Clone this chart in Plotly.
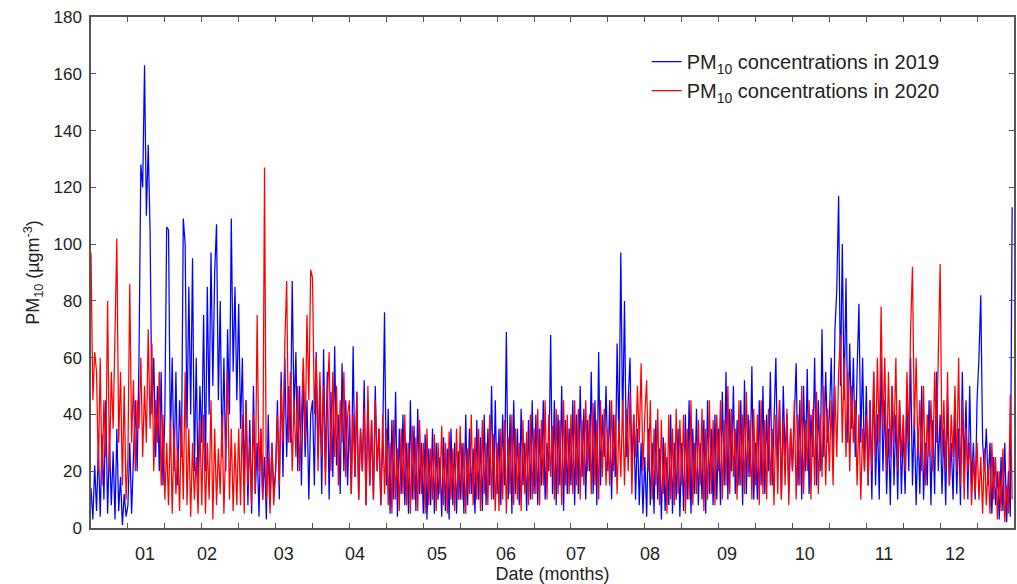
import plotly.graph_objects as go

# PM10 values, one value every 0.73 day (20 per tick interval)
pm10_2019 = (
    [14, 3, 22, 6, 28, 4, 33, 10, 45, 5, 30, 8, 27, 3, 35, 6, 18, 1, 12, 4]
    + [8, 30, 5, 25, 45, 20, 60, 128, 120, 163, 110, 135, 105, 40, 60, 25, 50, 20, 55, 15]
    + [40, 106, 105, 30, 60, 20, 55, 15, 45, 25, 109, 100, 35, 85, 40, 95, 20, 60, 15, 50]
    + [30, 75, 20, 85, 40, 97, 50, 90, 107, 45, 80, 25, 60, 20, 70, 40, 109, 55, 85, 45]
    + [79, 35, 60, 15, 45, 8, 38, 5, 50, 12, 30, 4, 35, 10, 25, 3, 40, 8, 30, 12]
    + [20, 45, 10, 55, 18, 60, 25, 50, 30, 87, 40, 62, 20, 50, 15, 55, 25, 45, 10, 40]
    + [45, 15, 62, 25, 50, 12, 63, 20, 55, 10, 48, 18, 64, 22, 40, 12, 58, 20, 45, 15]
    + [40, 12, 64, 18, 48, 10, 35, 20, 52, 8, 45, 15, 38, 10, 50, 20, 35, 8, 30, 76]
    + [15, 42, 5, 38, 10, 48, 4, 35, 12, 40, 8, 30, 5, 45, 10, 36, 6, 42, 12, 30]
    + [5, 33, 3, 28, 8, 35, 5, 30, 10, 25, 4, 32, 6, 28, 3, 35, 8, 30, 5, 27]
    + [10, 30, 5, 40, 8, 35, 12, 28, 5, 38, 10, 32, 6, 40, 8, 35, 15, 50, 10, 45]
    + [12, 35, 8, 40, 15, 69, 10, 40, 5, 45, 12, 35, 8, 42, 15, 30, 6, 38, 10, 45]
    + [12, 40, 8, 35, 15, 45, 10, 30, 20, 68, 12, 45, 8, 40, 15, 50, 6, 38, 12, 35]
    + [15, 45, 8, 40, 12, 50, 18, 42, 10, 38, 20, 55, 12, 45, 8, 62, 15, 40, 25, 50]
    + [20, 45, 10, 40, 18, 65, 30, 97, 35, 80, 25, 45, 60, 20, 40, 10, 35, 8, 30, 5]
    + [25, 4, 35, 8, 30, 5, 38, 10, 28, 3, 32, 6, 25, 8, 40, 5, 30, 10, 35, 4]
    + [30, 6, 40, 10, 45, 5, 35, 12, 42, 8, 30, 10, 38, 5, 45, 12, 35, 8, 40, 10]
    + [35, 8, 48, 15, 55, 10, 42, 20, 50, 12, 38, 15, 45, 8, 52, 12, 40, 18, 57, 10]
    + [30, 10, 45, 15, 50, 12, 40, 20, 55, 15, 35, 60, 20, 45, 10, 50, 25, 40, 12, 35]
    + [20, 40, 58, 15, 45, 10, 50, 20, 56, 12, 40, 25, 60, 15, 45, 20, 70, 25, 55, 30]
    + [40, 60, 25, 70, 84, 117, 50, 100, 45, 88, 30, 65, 35, 60, 25, 55, 79, 30, 60, 20]
    + [50, 15, 45, 10, 55, 15, 40, 10, 60, 20, 45, 12, 35, 8, 50, 15, 40, 10, 45, 12]
    + [35, 12, 45, 20, 60, 15, 40, 8, 35, 12, 50, 10, 30, 15, 45, 8, 38, 12, 55, 20]
    + [40, 12, 35, 8, 45, 15, 30, 10, 42, 12, 35, 8, 55, 20, 45, 10, 50, 15, 30, 10]
    + [45, 60, 82, 30, 20, 35, 15, 30, 5, 25, 8, 20, 3, 25, 6, 30, 2, 20, 4, 113]
)

pm10_2020 = (
    [97, 45, 62, 55, 20, 60, 15, 45, 25, 80, 20, 55, 35, 65, 102, 30, 55, 15, 50, 10]
    + [25, 86, 30, 52, 20, 45, 35, 60, 25, 50, 30, 70, 35, 65, 20, 45, 30, 55, 15, 40]
    + [10, 30, 8, 38, 5, 35, 12, 28, 6, 40, 10, 55, 8, 35, 4, 30, 10, 25, 5, 38]
    + [8, 40, 5, 30, 10, 45, 3, 35, 8, 28, 12, 40, 5, 30, 55, 10, 35, 6, 30, 8]
    + [35, 8, 40, 5, 45, 15, 30, 8, 40, 12, 75, 20, 35, 10, 127, 10, 25, 5, 30, 8]
    + [20, 40, 15, 50, 30, 65, 87, 30, 55, 20, 45, 25, 50, 20, 40, 60, 30, 75, 45, 91]
    + [88, 40, 60, 20, 55, 25, 50, 15, 45, 62, 20, 55, 25, 50, 15, 45, 30, 55, 18, 40]
    + [45, 12, 40, 18, 48, 10, 35, 20, 42, 8, 50, 15, 38, 10, 45, 20, 35, 8, 40, 12]
    + [35, 8, 30, 5, 38, 10, 28, 6, 35, 12, 40, 8, 30, 5, 36, 10, 32, 6, 38, 12]
    + [30, 5, 35, 8, 28, 10, 33, 6, 30, 12, 36, 8, 30, 5, 34, 10, 28, 6, 35, 10]
    + [36, 10, 30, 5, 28, 12, 40, 8, 32, 10, 35, 6, 38, 12, 30, 8, 40, 10, 33, 6]
    + [30, 6, 35, 10, 38, 5, 32, 12, 40, 8, 35, 10, 30, 6, 38, 12, 34, 8, 40, 10]
    + [35, 12, 42, 8, 38, 15, 45, 10, 40, 18, 36, 10, 42, 12, 38, 8, 45, 15, 40, 12]
    + [40, 12, 45, 15, 42, 10, 38, 15, 45, 20, 40, 12, 44, 15, 38, 10, 45, 18, 42, 15]
    + [35, 15, 45, 20, 40, 12, 38, 18, 45, 15, 42, 20, 48, 12, 40, 25, 50, 30, 58, 20]
    + [40, 52, 20, 45, 10, 35, 15, 42, 8, 38, 12, 30, 5, 40, 10, 35, 8, 42, 12, 38]
    + [15, 40, 5, 35, 10, 45, 8, 30, 12, 38, 15, 42, 6, 35, 10, 45, 12, 38, 8, 40]
    + [20, 45, 10, 38, 15, 50, 12, 42, 18, 35, 10, 45, 15, 40, 12, 48, 18, 38, 10, 42]
    + [15, 40, 8, 45, 12, 38, 10, 42, 15, 35, 8, 40, 12, 45, 10, 38, 15, 42, 8, 35]
    + [20, 45, 10, 40, 15, 50, 12, 38, 20, 45, 10, 42, 15, 48, 12, 40, 18, 50, 15, 42]
    + [20, 45, 15, 50, 25, 55, 68, 30, 60, 25, 55, 20, 50, 30, 45, 15, 40, 10, 35, 20]
    + [40, 15, 45, 20, 55, 25, 60, 30, 78, 35, 60, 20, 55, 25, 50, 30, 60, 20, 45, 25]
    + [40, 20, 55, 30, 70, 92, 35, 60, 25, 45, 20, 50, 15, 40, 25, 45, 20, 55, 30, 65]
    + [93, 25, 45, 20, 55, 15, 40, 25, 50, 20, 60, 15, 45, 10, 35, 20, 30, 8, 25, 12]
    + [30, 10, 25, 5, 28, 8, 22, 5, 30, 10, 25, 3, 20, 6, 28, 2, 15, 5, 47, 10]
)

day_step = 0.73
days_2019 = [i * day_step for i in range(len(pm10_2019))]
days_2020 = [i * day_step for i in range(len(pm10_2020))]

month_labels = ["01", "02", "03", "04", "05", "06", "07", "08", "09", "10", "11", "12"]
month_pos = [21.4, 45.9, 76.2, 104.4, 136.8, 164.1, 191.8, 221.1, 251.5, 282.3, 313.6, 341.7]

series_names = ["PM<sub>10</sub> concentrations in 2019", "PM<sub>10</sub> concentrations in 2020"]

x_range = [0, 365]
axis_col = "#555555"
txt_col = "#222222"
font_fam = "Liberation Sans, Arial, sans-serif"

fig = go.Figure()
fig.add_trace(go.Scatter(x=days_2019, y=pm10_2019, mode="lines", name=series_names[0],
                         line=dict(color="#0000ff", width=1.25), xaxis="x", yaxis="y"))
fig.add_trace(go.Scatter(x=days_2020, y=pm10_2020, mode="lines", name=series_names[1],
                         line=dict(color="#ff0000", width=1.25), xaxis="x2", yaxis="y"))

fig.update_layout(
    width=1017, height=584,
    margin=dict(l=91, r=3, t=17, b=56),
    paper_bgcolor="white", plot_bgcolor="white",
    font=dict(family=font_fam, size=17, color=txt_col),
    showlegend=True,
    legend=dict(x=0.602, y=0.951, xanchor="left", yanchor="top",
                bgcolor="rgba(0,0,0,0)", font=dict(size=20, color=txt_col),
                tracegroupgap=0),
    xaxis=dict(
        range=x_range, tickmode="linear", tick0=0, dtick=14.6,
        ticks="inside", ticklen=5, tickcolor=axis_col, tickwidth=1,
        showticklabels=False, showgrid=False, zeroline=False, automargin=False,
        showline=True, linecolor=axis_col, linewidth=1.5, mirror="ticks",
    ),
    xaxis2=dict(
        range=x_range, overlaying="x", anchor="y", side="bottom",
        tickmode="array", tickvals=month_pos, ticktext=month_labels,
        ticks="", showline=False, showgrid=False, zeroline=False, automargin=False,
        tickfont=dict(size=18), ticklabelstandoff=13, ticklabeloverflow="allow",
        title=dict(text="Date (months)", standoff=6, font=dict(size=18)),
    ),
    yaxis=dict(
        range=[0, 180], tickmode="linear", tick0=0, dtick=20,
        ticks="inside", ticklen=5, tickcolor=axis_col, showgrid=False, zeroline=False,
        showline=True, linecolor=axis_col, linewidth=1.5, mirror="ticks",
        tickfont=dict(size=17), automargin=False, ticklabelstandoff=4,
        ticklabeloverflow="allow",
        title=dict(text="PM<sub>10</sub> (µgm<sup>-3</sup>)", standoff=9, font=dict(size=18)),
    ),
)

# remove the browser's default 8px body margin so the figure fills the window exactly
fig.write_html("out.html",
               config={"displayModeBar": False},
               post_script="document.body.style.margin='0px';document.body.style.overflow='hidden';")
